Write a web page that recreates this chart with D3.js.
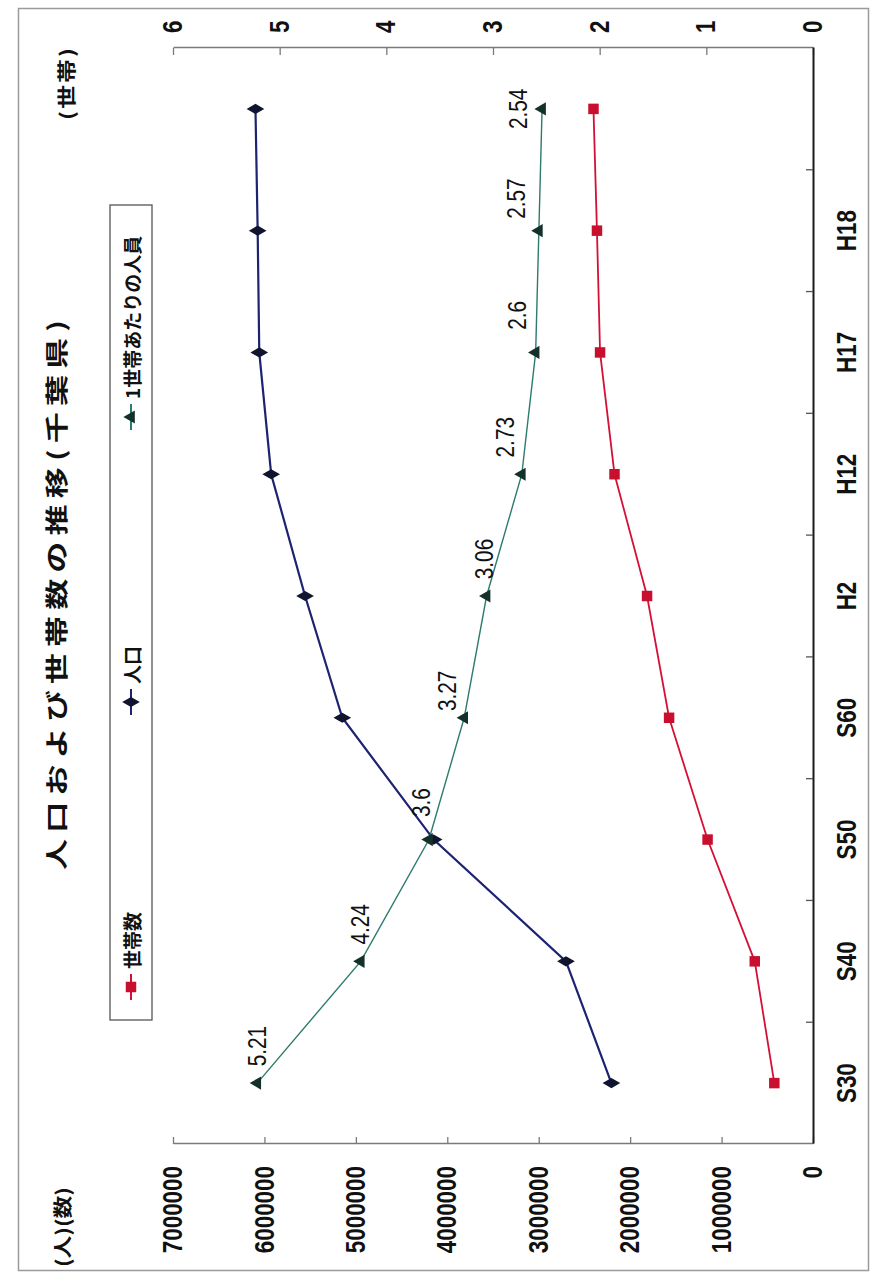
<!DOCTYPE html>
<html>
<head>
<meta charset="utf-8">
<script src="https://cdn.jsdelivr.net/npm/d3@7"></script>
<style>
  html, body { margin: 0; padding: 0; background: #fff; }
  svg { display: block; }
  .num { font-family: "Liberation Sans", Arial, sans-serif; }
  .jp { font-family: "Noto Sans CJK JP", sans-serif; font-weight: 700; }
</style>
</head>
<body>
<svg id="chart" width="877" height="1282"></svg>
<script>
// Chiba prefecture: population, households and persons per household
const categories = ["S30", "S40", "S50", "S60", "H2", "H12", "H17", "H18", ""];
const population = [2205060, 2701770, 4149147, 5148163, 5555429, 5926285, 6056462, 6074000, 6098000];
const households = [423000, 637000, 1153000, 1574000, 1815000, 2171000, 2329000, 2363000, 2401000];
const perHousehold = [5.21, 4.24, 3.6, 3.27, 3.06, 2.73, 2.6, 2.57, 2.54];

const leftTicks = [0, 1000000, 2000000, 3000000, 4000000, 5000000, 6000000, 7000000];
const rightTicks = [0, 1, 2, 3, 4, 5, 6];

const seriesNames = ["世帯数", "人口", "1世帯あたりの人員"];
const title = "人口および世帯数の推移(千葉県)";
const leftUnit = "(人)(数)";
const rightUnit = "(世帯)";

// small hand placement of the per-household value labels [along, across]
const labelNudge = [[37, 0], [37, 0], [37, -8], [27, -17], [37, -2], [37, -17], [37, -18], [32, -23], [0, -24]];

const svg = d3.select("#chart");
const W = 1282;                   // chart length before turning it on its side
const SQ = 0.83;                  // horizontal squeeze of the numerals

// outer chart frame
svg.append("rect").attr("x", 18.5).attr("y", 8.5).attr("width", 850).attr("height", 1262)
  .attr("fill", "#fff").attr("stroke", "#9a9a9a").attr("stroke-width", 1.5);

// the whole chart is laid out landscape, then turned 90° counter-clockwise
const g = svg.append("g").attr("transform", `translate(0,${W}) rotate(-90)`);

const plot = { u0: 138, u1: 1234, v0: 173, v1: 813 };

const x = d3.scaleBand().domain(categories).range([plot.u0, plot.u1]).padding(0);
const cx = c => x(c) + x.bandwidth() / 2;
const yL = d3.scaleLinear().domain([0, 7000000]).range([plot.v1, plot.v0]);
const yR = d3.scaleLinear().domain([0, 6]).range([plot.v1, plot.v0]);

function squeeze(sel) {
  sel.each(function () {
    const t = d3.select(this);
    const tx = +t.attr("x") || 0, ty = +t.attr("y") || 0;
    t.attr("x", 0).attr("y", 0).attr("transform", `translate(${tx},${ty}) scale(${SQ},1)`);
  });
}

// primary value axis
const axL = g.append("g").attr("transform", `translate(${plot.u0},0)`)
  .call(d3.axisLeft(yL).tickValues(leftTicks).tickFormat(d3.format("d"))
    .tickSizeInner(-7).tickSizeOuter(0).tickPadding(22));
axL.select(".domain").attr("stroke", "#7a7a7a").attr("stroke-width", 1.6);
axL.selectAll(".tick line").attr("stroke", "#7a7a7a").attr("stroke-width", 1.3);
axL.selectAll("text").attr("class", "num").attr("font-size", 27).attr("font-weight", 700).attr("fill", "#111").call(squeeze);

// secondary value axis
const axR = g.append("g").attr("transform", `translate(${plot.u1},0)`)
  .call(d3.axisRight(yR).tickValues(rightTicks).tickFormat(d3.format("d"))
    .tickSizeInner(-7).tickSizeOuter(0).tickPadding(15));
axR.select(".domain").attr("stroke", "#7a7a7a").attr("stroke-width", 1.6);
axR.selectAll(".tick line").attr("stroke", "#7a7a7a").attr("stroke-width", 1.3);
axR.selectAll("text").attr("class", "num").attr("font-size", 27).attr("font-weight", 700).attr("fill", "#111").call(squeeze);

// category axis: labels centred in each band, tick marks on band edges
const axB = g.append("g").attr("transform", `translate(0,${plot.v1})`)
  .call(d3.axisBottom(x).tickSize(0).tickPadding(24));
axB.select(".domain").attr("stroke", "#1a1a1a").attr("stroke-width", 2);
axB.selectAll("text").attr("class", "num").attr("font-size", 27).attr("font-weight", 700).attr("fill", "#111").call(squeeze);
axB.selectAll(".edge").data(categories.slice(1)).join("line")
  .attr("x1", d => x(d)).attr("x2", d => x(d)).attr("y1", 0).attr("y2", -7)
  .attr("stroke", "#555").attr("stroke-width", 1.3);

// series
const idx = d3.range(categories.length);
const lineL = arr => d3.line().x(i => cx(categories[i])).y(i => yL(arr[i]))(idx);
const lineR = arr => d3.line().x(i => cx(categories[i])).y(i => yR(arr[i]))(idx);

const redCol = "#d41037", blueCol = "#1d2370", greenCol = "#2c7b6c";

g.append("path").attr("d", lineL(households)).attr("fill", "none").attr("stroke", redCol).attr("stroke-width", 1.8);
g.append("path").attr("d", lineL(population)).attr("fill", "none").attr("stroke", blueCol).attr("stroke-width", 2.2);
g.append("path").attr("d", lineR(perHousehold)).attr("fill", "none").attr("stroke", greenCol).attr("stroke-width", 1.4);

const sqSym = d3.symbol().type(d3.symbolSquare).size(110);
const diSym = d3.symbol().type(d3.symbolDiamond).size(90);
const trSym = d3.symbol().type(d3.symbolTriangle).size(75);

g.selectAll(".hh").data(idx).join("path").attr("class", "hh")
  .attr("d", sqSym).attr("transform", i => `translate(${cx(categories[i])},${yL(households[i])})`)
  .attr("fill", "#c8102e");
g.selectAll(".pop").data(idx).join("path").attr("class", "pop")
  .attr("d", diSym).attr("transform", i => `translate(${cx(categories[i])},${yL(population[i])})`)
  .attr("fill", "#10142e");
g.selectAll(".ph").data(idx).join("path").attr("class", "ph")
  .attr("d", trSym).attr("transform", i => `translate(${cx(categories[i])},${yR(perHousehold[i])})`)
  .attr("fill", "#13302a");

// value labels for persons per household
g.selectAll(".phl").data(idx).join("text").attr("class", "phl num")
  .attr("transform", i => `translate(${cx(categories[i]) + labelNudge[i][0]},${yR(perHousehold[i]) + labelNudge[i][1]}) scale(${SQ},1)`)
  .attr("text-anchor", "middle").attr("dominant-baseline", "central")
  .attr("font-size", 25).attr("fill", "#111")
  .text(i => String(perHousehold[i]));

// title and unit captions: tall-looking lettering, stretched along the line
function caption(text, u, v, len, size, stretch) {
  g.append("text").attr("class", "jp")
    .attr("transform", `translate(${u},${v}) scale(${stretch},1)`)
    .attr("dominant-baseline", "central")
    .attr("textLength", len / stretch).attr("lengthAdjust", "spacing")
    .attr("font-size", size).attr("fill", "#111").text(text);
}
caption(title, 687 - 275, 55, 550, 23, 1.35);
caption(leftUnit, 15, 62, 80, 19, 1.2);
caption(rightUnit, 1162, 66, 72, 19, 1.25);

// legend
const leg = g.append("g");
leg.append("rect").attr("x", 262).attr("y", 110).attr("width", 815).attr("height", 42)
  .attr("fill", "#fff").attr("stroke", "#555").attr("stroke-width", 1.3);
const legU = [282, 567, 852];
const legCol = [redCol, blueCol, greenCol];
const legSym = [sqSym, diSym, trSym];
const legFill = ["#c8102e", "#10142e", "#13302a"];
seriesNames.forEach((name, i) => {
  const it = leg.append("g").attr("transform", `translate(${legU[i]},131)`);
  it.append("line").attr("x1", 0).attr("x2", 26).attr("stroke", legCol[i]).attr("stroke-width", 2);
  it.append("path").attr("d", legSym[i]).attr("transform", "translate(13,0)").attr("fill", legFill[i]);
  it.append("text").attr("class", "jp").attr("x", 31).attr("dominant-baseline", "central")
    .attr("font-size", 19).attr("fill", "#111").text(name);
});
</script>
</body>
</html>
